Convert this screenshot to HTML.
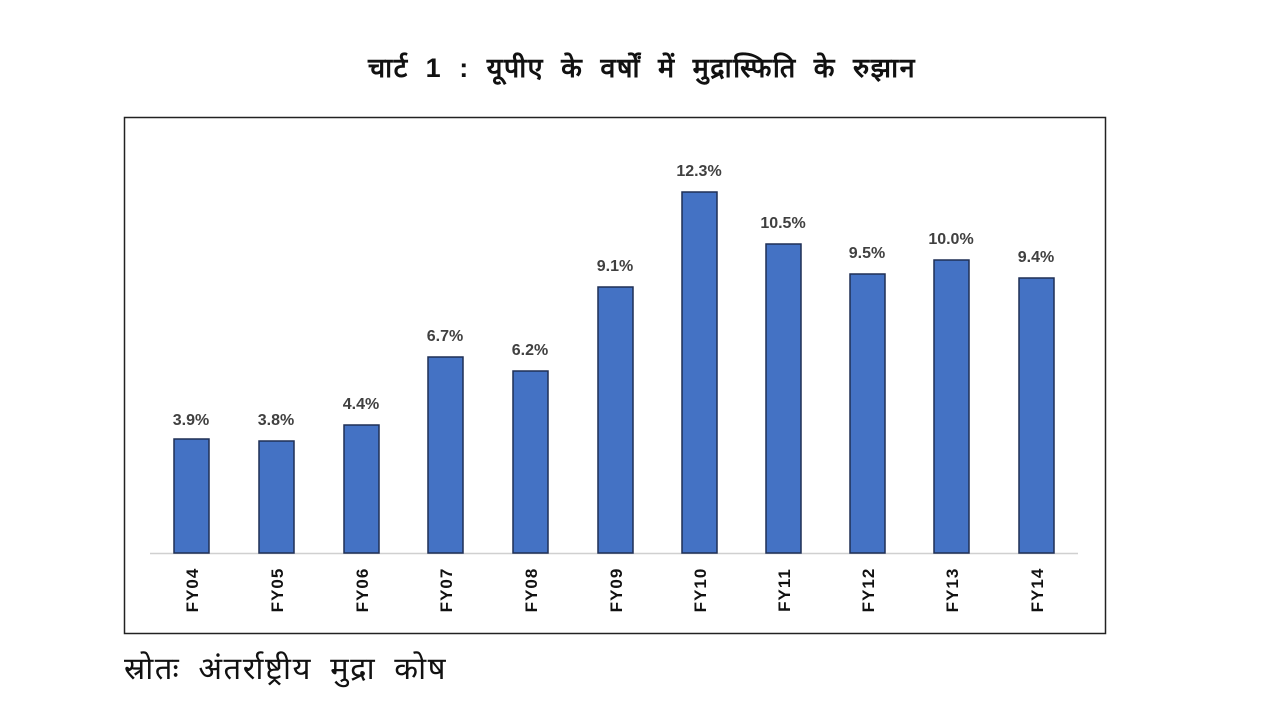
<!DOCTYPE html>
<html><head><meta charset="utf-8"><style>
html,body{margin:0;padding:0;background:#fff;width:1280px;height:720px;overflow:hidden}
</style></head><body>
<svg width="1280" height="720" xmlns="http://www.w3.org/2000/svg" font-family="'Liberation Sans','DejaVu Sans',sans-serif">
<text x="642" y="77" text-anchor="middle" font-size="27" font-weight="bold" fill="#111" letter-spacing="1.5" word-spacing="8">चार्ट 1 : यूपीए के वर्षों में मुद्रास्फिति के रुझान</text>
<rect x="124.5" y="117.5" width="981" height="516" fill="#fff" stroke="#222" stroke-width="1.5"/>
<line x1="150" y1="553.5" x2="1078" y2="553.5" stroke="#d0d0d0" stroke-width="1.5"/>
<g fill="#4472C4" stroke="#1f2f55" stroke-width="1.5">
<rect x="174" y="439" width="35" height="114"/>
<rect x="259" y="441" width="35" height="112"/>
<rect x="344" y="425" width="35" height="128"/>
<rect x="428" y="357" width="35" height="196"/>
<rect x="513" y="371" width="35" height="182"/>
<rect x="598" y="287" width="35" height="266"/>
<rect x="682" y="192" width="35" height="361"/>
<rect x="766" y="244" width="35" height="309"/>
<rect x="850" y="274" width="35" height="279"/>
<rect x="934" y="260" width="35" height="293"/>
<rect x="1019" y="278" width="35" height="275"/>
</g>
<g font-size="16" font-weight="bold" fill="#404040" text-anchor="middle">
<text x="191" y="425">3.9%</text>
<text x="276" y="425">3.8%</text>
<text x="361" y="409">4.4%</text>
<text x="445" y="341">6.7%</text>
<text x="530" y="355">6.2%</text>
<text x="615" y="271">9.1%</text>
<text x="699" y="176">12.3%</text>
<text x="783" y="228">10.5%</text>
<text x="867" y="258">9.5%</text>
<text x="951" y="244">10.0%</text>
<text x="1036" y="262">9.4%</text>
</g>
<g font-size="17" font-weight="bold" fill="#111" text-anchor="middle" letter-spacing="1">
<text transform="translate(198,590) rotate(-90)">FY04</text>
<text transform="translate(283,590) rotate(-90)">FY05</text>
<text transform="translate(368,590) rotate(-90)">FY06</text>
<text transform="translate(452,590) rotate(-90)">FY07</text>
<text transform="translate(537,590) rotate(-90)">FY08</text>
<text transform="translate(622,590) rotate(-90)">FY09</text>
<text transform="translate(706,590) rotate(-90)">FY10</text>
<text transform="translate(790,590) rotate(-90)">FY11</text>
<text transform="translate(874,590) rotate(-90)">FY12</text>
<text transform="translate(958,590) rotate(-90)">FY13</text>
<text transform="translate(1043,590) rotate(-90)">FY14</text>
</g>
<text x="124" y="679" font-size="31" fill="#111" letter-spacing="1.5" word-spacing="8">स्रोतः अंतर्राष्ट्रीय मुद्रा कोष</text>
</svg>
</body></html>
